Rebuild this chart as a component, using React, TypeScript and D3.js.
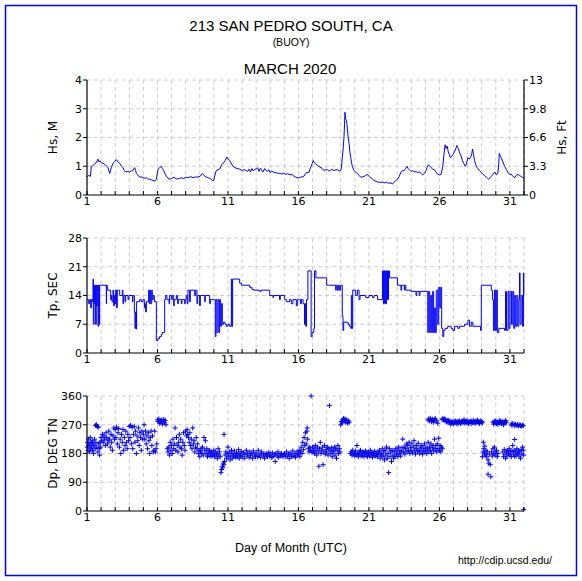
import React from 'react';
import * as d3 from 'd3';

const TITLE = '213 SAN PEDRO SOUTH, CA';
const SUBTITLE = '(BUOY)';
const MONTH = 'MARCH 2020';
const XLABEL = 'Day of Month (UTC)';
const URL = 'http://cdip.ucsd.edu/';

const dayTicks = [1, 6, 11, 16, 21, 26, 31];
const hsTicks = [0, 1, 2, 3, 4];
const hsFtLabels = ['0', '3.3', '6.6', '9.8', '13'];
const tpTicks = [0, 7, 14, 21, 28];
const dpTicks = [0, 90, 180, 270, 360];

const hsData: [number, number][] = [
  [1.0,0.63],[1.1,0.68],[1.24,0.65],[1.31,1.0],[1.4,1.02],[1.54,1.08],[1.65,1.12],[1.78,1.25],[1.85,1.15],[1.95,1.18],
  [2.02,1.12],[2.15,1.1],[2.3,1.05],[2.4,1.0],[2.49,0.95],[2.61,0.75],[2.68,0.88],[2.73,0.95],[2.84,1.1],[2.95,1.15],
  [3.08,1.23],[3.2,1.15],[3.32,1.1],[3.45,1.0],[3.55,0.95],[3.65,0.85],[3.74,0.8],[3.9,0.82],[4.03,0.8],[4.15,0.84],
  [4.26,0.85],[4.38,0.95],[4.45,0.85],[4.5,0.75],[4.6,0.7],[4.74,0.62],[4.9,0.63],[5.05,0.58],[5.21,0.6],[5.3,0.56],
  [5.44,0.55],[5.6,0.52],[5.8,0.48],[5.92,0.55],[6.04,0.9],[6.15,0.95],[6.27,1.0],[6.35,0.92],[6.44,0.85],[6.55,0.72],
  [6.63,0.65],[6.75,0.58],[6.86,0.55],[7.0,0.58],[7.1,0.6],[7.2,0.62],[7.34,0.55],[7.45,0.57],[7.57,0.58],[7.7,0.6],
  [7.85,0.57],[8.04,0.62],[8.2,0.6],[8.35,0.64],[8.52,0.6],[8.7,0.63],[8.87,0.62],[9.05,0.66],[9.18,0.75],[9.28,0.7],
  [9.35,0.65],[9.48,0.62],[9.58,0.6],[9.7,0.58],[9.82,0.55],[9.9,0.5],[9.98,0.5],[10.08,0.7],[10.17,0.85],[10.3,0.88],
  [10.41,0.9],[10.55,1.05],[10.65,1.1],[10.8,1.2],[10.93,1.32],[11.02,1.25],[11.12,1.2],[11.25,1.08],[11.35,1.0],[11.5,0.95],
  [11.65,0.92],[11.83,0.9],[12.0,0.85],[12.15,0.88],[12.3,0.85],[12.4,0.82],[12.5,0.9],[12.6,0.8],[12.7,0.92],[12.8,0.84],
  [12.9,0.9],[13.01,0.9],[13.1,0.95],[13.2,0.82],[13.3,0.93],[13.4,0.86],[13.5,0.8],[13.6,0.92],[13.72,0.85],[13.8,0.82],
  [13.9,0.88],[14.0,0.78],[14.1,0.84],[14.19,0.8],[14.35,0.78],[14.5,0.76],[14.66,0.75],[14.8,0.73],[14.95,0.76],[15.1,0.72],
  [15.25,0.74],[15.4,0.7],[15.55,0.72],[15.67,0.65],[15.8,0.62],[15.9,0.6],[16.0,0.6],[16.14,0.62],[16.25,0.63],[16.38,0.65],
  [16.5,0.75],[16.6,0.78],[16.74,0.78],[16.82,0.9],[16.9,1.0],[16.98,1.1],[17.05,1.2],[17.13,1.12],[17.21,1.1],[17.35,1.02],
  [17.45,1.0],[17.6,0.95],[17.69,0.92],[17.81,0.85],[17.9,0.88],[18.04,0.88],[18.15,0.84],[18.28,0.85],[18.4,0.9],[18.52,0.84],
  [18.65,0.88],[18.76,0.88],[18.88,0.84],[18.99,0.85],[19.05,0.95],[19.11,1.3],[19.17,1.6],[19.23,2.0],[19.27,2.5],[19.3,2.88],
  [19.35,2.65],[19.4,2.6],[19.44,2.45],[19.47,2.3],[19.53,2.0],[19.59,1.8],[19.65,1.5],[19.71,1.3],[19.77,1.12],[19.82,1.0],
  [19.94,0.85],[20.05,0.8],[20.18,0.75],[20.3,0.68],[20.42,0.62],[20.55,0.63],[20.66,0.65],[20.78,0.68],[20.89,0.72],[21.0,0.65],
  [21.13,0.6],[21.25,0.55],[21.37,0.5],[21.5,0.48],[21.6,0.45],[21.8,0.44],[21.95,0.45],[22.08,0.42],[22.25,0.44],[22.4,0.41],
  [22.56,0.42],[22.67,0.38],[22.79,0.45],[22.9,0.5],[23.03,0.55],[23.15,0.65],[23.27,0.8],[23.4,0.85],[23.51,0.85],[23.6,0.92],
  [23.7,1.0],[23.78,0.92],[23.86,0.88],[23.98,0.82],[24.1,0.85],[24.22,0.8],[24.34,0.82],[24.45,0.78],[24.57,0.8],[24.7,0.75],
  [24.81,0.7],[24.93,0.75],[25.05,0.85],[25.14,0.98],[25.22,1.05],[25.32,1.0],[25.41,0.95],[25.52,0.9],[25.64,0.88],[25.76,0.8],
  [25.88,0.72],[26.0,0.7],[26.12,0.72],[26.24,1.0],[26.32,1.4],[26.4,1.75],[26.48,1.62],[26.55,1.7],[26.63,1.5],[26.71,1.4],
  [26.77,1.3],[26.83,1.32],[26.95,1.4],[27.07,1.5],[27.15,1.6],[27.24,1.72],[27.3,1.65],[27.35,1.6],[27.45,1.45],[27.54,1.35],
  [27.63,1.2],[27.73,1.1],[27.82,1.0],[27.9,1.05],[28.02,1.3],[28.1,1.25],[28.21,1.3],[28.3,1.45],[28.35,1.6],[28.42,1.4],
  [28.49,1.2],[28.58,1.05],[28.68,0.95],[28.77,0.9],[28.85,0.85],[28.97,0.78],[29.09,0.72],[29.2,0.68],[29.33,0.62],[29.42,0.58],
  [29.49,0.55],[29.58,0.6],[29.68,0.65],[29.8,0.72],[29.92,0.8],[30.04,0.7],[30.1,0.72],[30.16,0.8],[30.21,1.1],[30.25,1.45],
  [30.32,1.35],[30.39,1.3],[30.5,1.15],[30.63,1.0],[30.75,0.88],[30.87,0.78],[30.98,0.72],[31.11,0.72],[31.2,0.65],[31.34,0.6],
  [31.45,0.68],[31.58,0.72],[31.7,0.66],[31.82,0.65],[31.92,0.6],[32.0,0.6],
];

const tpData: [number, number][] = [
  [1.00,13],[1.12,12],[1.19,13],[1.26,11],[1.31,13],[1.38,12.5],[1.43,18],[1.45,7],[1.50,16.5],[1.54,12],
  [1.57,16.5],[1.61,7],[1.66,16.5],[1.71,11.5],[1.73,16.5],[1.78,6.5],[1.83,16.5],[1.87,7],[1.90,16.5],[2.37,12],
  [2.39,16.5],[2.44,15.3],[2.68,13],[2.73,14],[2.77,12.5],[2.84,15.3],[2.89,11.5],[2.94,14],[2.99,12],[3.03,15.3],
  [3.10,11],[3.15,15.3],[3.32,14],[3.51,15.3],[3.55,12],[3.60,14],[3.70,12.5],[3.74,14],[3.91,13],[3.98,14],
  [4.22,12.5],[4.26,14],[4.36,10],[4.40,6],[4.45,10],[4.50,5.8],[4.52,12.5],[4.74,13],[4.85,12.5],[4.97,13],
  [5.07,11],[5.11,12],[5.16,10],[5.21,12.5],[5.37,15.3],[5.42,12],[5.47,15.3],[5.52,12],[5.59,15.3],[5.63,13],
  [5.70,14],[5.78,12.5],[5.92,3],[6.04,3.5],[6.15,4],[6.27,4.5],[6.34,5],[6.51,13],[6.58,14],[6.67,13],
  [6.82,12],[6.86,14],[6.98,13],[7.05,14],[7.15,11.5],[7.19,13],[7.34,14],[7.43,12],[7.48,13],[7.69,12],
  [7.74,13],[7.93,12],[7.97,13],[8.04,14],[8.11,12],[8.16,15.3],[8.28,12.5],[8.33,15.3],[8.64,14],[8.71,15.3],
  [8.80,12],[8.85,14],[8.99,11.5],[9.04,14],[9.35,12.5],[9.39,14],[9.70,12],[9.75,13],[10.05,13],[10.10,4],
  [10.15,13],[10.22,5],[10.29,13],[10.36,5],[10.41,13],[10.48,6.5],[10.53,12],[10.60,7],[10.69,7.5],[10.79,7],
  [10.88,6.5],[11.00,7],[11.12,6.5],[11.24,18],[11.28,6.5],[11.33,18],[11.83,17],[11.95,16.5],[12.54,16],[12.70,15.5],
  [12.82,15.3],[13.25,15],[13.36,15.3],[13.96,14],[14.19,13.5],[14.24,14],[14.66,13],[14.71,14],[15.02,13],[15.14,12.5],
  [15.37,13],[15.49,12],[15.61,13],[15.85,11.5],[15.92,13],
  [16.00,13],[16.14,12],[16.21,13],[16.33,12],[16.43,7],[16.48,12],[16.52,6.5],[16.57,13],[16.67,20],[16.90,4],
  [16.97,5],[17.09,6],[17.14,20],[17.24,18.3],[18.00,16.5],[18.64,15.3],[18.68,16.5],[18.76,15.3],[18.83,16.5],[18.90,15.3],
  [18.99,16.5],[19.11,9],[19.16,5.5],[19.21,7.5],[19.52,7],[19.61,6.5],[19.71,6],[19.75,14],[19.80,6],[19.85,15.3],
  [20.06,14],[20.18,15.3],[20.30,13],[20.37,14],[20.77,13.5],[21.01,14],[21.25,13.5],[21.37,14],[21.61,13],[21.96,20],
  [22.03,12],[22.10,20],[22.18,12],[22.25,20],[22.32,13],[22.39,20],[22.46,18.3],[23.03,16.5],[23.27,15.3],[23.32,16.5],
  [23.51,15.3],[23.55,16.5],[23.62,15.3],[23.98,15],[24.34,14],[24.39,15],[24.57,14],[24.62,15],[25.17,5],[25.24,15],
  [25.31,5],[25.38,14],[25.45,5],[25.52,15],[25.59,5],[25.66,11],[25.71,5],[25.78,15.3],[25.88,7],[25.95,16],
  [26.02,11],[26.09,16],[26.16,6],[26.24,4],[26.31,5.5],[26.40,6],[26.59,6.5],[26.83,6],[26.95,5.5],[27.07,6.5],
  [27.31,6],[27.42,6.5],[27.78,7],[28.02,8],[28.14,6.5],[28.26,7.5],[28.37,6.5],[28.92,5.5],[28.97,16.5],[29.68,15.3],
  [29.76,13],[29.83,5.5],[29.90,15.3],[29.97,5.5],[30.04,15.3],[30.11,5],[30.21,6],[30.62,5.5],[30.69,15],[30.76,5.5],
  [30.87,15],[30.93,6],[31.01,15],[31.11,7],[31.20,15],[31.27,6],[31.34,14],[31.41,6.5],[31.49,14],[31.56,6.5],
  [31.63,13],[31.68,19.5],[31.72,7],[31.80,14],[31.89,6.5],[31.96,19.5],[31.99,14],[32.0,14],
];

const dpData: [number, number][] = [
  [1.02,200],[1.05,215],[1.08,190],[1.1,225],[1.13,205],[1.17,185],[1.2,210],[1.23,230],[1.27,195],[1.3,215],
  [1.33,200],[1.37,220],[1.4,190],[1.43,210],[1.47,180],[1.5,205],[1.53,225],[1.57,195],[1.6,268],[1.63,215],
  [1.67,270],[1.7,200],[1.73,265],[1.77,185],[1.8,262],[1.83,210],[1.87,195],[1.9,175],[1.93,215],[1.97,200],
  [2.0,230],[2.05,220],[2.1,240],[2.15,215],[2.2,235],[2.25,225],[2.3,205],[2.35,245],[2.4,230],[2.45,210],
  [2.5,220],[2.55,250],[2.6,225],[2.65,200],[2.7,240],[2.75,215],[2.8,190],[2.85,235],[2.9,260],[2.95,225],
  [3.0,255],[3.05,230],[3.1,262],[3.15,210],[3.2,245],[3.25,258],[3.3,200],[3.35,225],[3.4,180],[3.45,240],
  [3.5,215],[3.55,255],[3.6,190],[3.65,230],[3.7,205],[3.75,250],[3.8,215],[3.85,195],[3.9,240],[3.95,220],
  [4.0,265],[4.05,230],[4.1,268],[4.15,210],[4.2,262],[4.25,195],[4.3,240],[4.35,265],[4.4,215],[4.45,250],
  [4.5,180],[4.55,235],[4.6,220],[4.65,260],[4.7,205],[4.75,245],[4.8,230],[4.85,190],[4.9,250],[4.95,225],
  [5.0,240],[5.05,270],[5.1,225],[5.15,250],[5.2,210],[5.25,235],[5.3,195],[5.35,245],[5.4,220],[5.45,180],
  [5.5,230],[5.55,250],[5.6,205],[5.65,235],[5.7,185],[5.75,190],[5.8,250],[5.85,185],[5.9,195],[5.95,210],
  [6.0,285],[6.05,280],[6.1,288],[6.15,275],[6.2,282],[6.25,278],[6.3,285],[6.35,272],[6.4,280],[6.45,287],
  [6.5,276],[6.55,283],[6.6,270],
  [6.7,195],[6.75,185],[6.8,200],[6.85,175],[6.9,215],[6.95,190],[7.0,205],[7.05,180],[7.1,225],[7.15,195],
  [7.2,210],[7.25,260],[7.3,190],[7.35,230],[7.4,205],[7.45,185],[7.5,215],[7.55,240],[7.6,200],[7.65,225],
  [7.7,195],[7.75,175],[7.8,215],[7.85,245],[7.9,205],[7.95,190],
  [8.0,250],[8.05,235],[8.1,255],[8.15,240],[8.2,230],[8.25,215],[8.3,245],[8.35,205],[8.4,225],[8.45,195],
  [8.5,260],[8.55,210],[8.6,220],[8.65,185],[8.7,200],[8.75,230],[8.8,195],[8.85,210],[8.9,180],[8.95,190],
  [9.0,170],[9.05,185],[9.1,195],[9.15,180],[9.2,200],[9.25,175],[9.3,230],[9.35,190],[9.4,220],[9.45,180],
  [9.5,195],[9.55,170],[9.6,185],[9.65,175],[9.7,190],[9.75,180],[9.8,170],[9.85,185],[9.9,175],[9.95,180],
  [10.0,190],[10.05,170],[10.1,185],[10.15,175],[10.2,180],[10.25,165],[10.3,195],[10.35,175],[10.4,185],[10.45,170],
  [10.5,120],[10.55,130],[10.6,140],[10.63,135],[10.67,150],[10.7,145],[10.72,240],[10.75,155],[10.8,175],[10.85,185],
  [10.9,165],[10.95,180],
  [11.0,200],[11.05,170],[11.1,185],[11.15,160],[11.2,175],[11.25,190],[11.3,165],[11.35,180],[11.4,172],[11.45,188],
  [11.5,175],[11.55,168],[11.6,182],[11.65,170],[11.7,178],[11.75,192],[11.8,165],[11.85,180],[11.9,174],[11.95,186],
  [12.0,170],[12.1,182],[12.15,165],[12.2,178],[12.3,190],[12.35,172],[12.4,180],[12.5,168],[12.55,185],[12.6,175],
  [12.7,180],[12.75,165],[12.8,188],[12.9,175],[12.95,170],
  [13.0,182],[13.1,170],[13.15,190],[13.2,175],[13.3,168],[13.35,180],[13.4,185],[13.5,172],[13.55,178],[13.6,165],
  [13.7,180],[13.75,175],[13.8,170],[13.9,184],[13.95,172],
  [14.0,178],[14.1,168],[14.15,182],[14.2,170],[14.3,176],[14.35,155],[14.4,180],[14.5,172],[14.55,185],[14.6,168],
  [14.7,178],[14.75,172],[14.8,180],[14.9,170],[14.95,176],
  [15.0,180],[15.1,170],[15.15,185],[15.2,172],[15.3,178],[15.35,165],[15.4,182],[15.5,175],[15.55,170],[15.6,188],
  [15.7,172],[15.75,180],[15.8,168],[15.9,185],[15.95,175],
  [16.0,178],[16.05,190],[16.1,170],[16.15,185],[16.2,200],[16.25,180],[16.3,215],[16.35,192],[16.4,230],[16.45,205],
  [16.5,245],[16.55,210],[16.6,250],[16.62,260],[16.65,225],[16.7,195],[16.75,185],[16.8,200],[16.85,190],[16.9,360],
  [16.95,185],
  [17.0,200],[17.05,185],[17.1,195],[17.15,180],[17.2,205],[17.25,190],[17.3,175],[17.35,200],[17.4,185],[17.45,140],
  [17.5,195],[17.55,215],[17.6,180],[17.65,190],[17.7,200],[17.75,145],[17.8,185],[17.85,205],[17.9,178],[17.95,192],
  [18.0,185],[18.05,200],[18.1,175],[18.15,195],[18.2,330],[18.25,188],[18.3,180],[18.35,198],[18.4,170],[18.45,190],
  [18.5,185],[18.55,200],[18.6,175],[18.65,195],[18.7,165],[18.75,190],[18.8,205],[18.85,180],[18.9,195],[18.95,185],
  [19.0,270],[19.05,280],[19.1,275],[19.15,285],[19.2,290],[19.25,283],[19.3,288],[19.35,278],[19.4,285],[19.45,280],
  [19.5,275],[19.55,282],[19.6,278],
  [19.7,180],[19.75,185],[19.8,175],[19.85,190],[19.9,178],[19.95,182],[20.0,172],[20.05,188],[20.1,175],[20.15,205],
  [20.2,180],[20.25,170],[20.3,185],[20.35,178],[20.4,190],[20.45,172],[20.5,182],[20.55,175],[20.6,185],[20.65,170],
  [20.7,180],[20.75,188],[20.8,175],[20.85,182],[20.9,170],[20.95,185],[21.0,178],[21.05,172],[21.1,190],[21.15,176],
  [21.2,183],[21.25,168],[21.3,180],[21.35,175],[21.4,187],[21.45,172],[21.5,182],[21.55,176],[21.6,170],[21.65,185],
  [21.7,178],[21.75,190],[21.8,165],[21.85,180],[21.9,175],[21.95,195],
  [22.0,170],[22.05,185],[22.1,160],[22.15,190],[22.2,175],[22.25,200],[22.3,165],[22.35,180],[22.4,120],[22.45,195],
  [22.5,170],[22.55,185],[22.6,155],[22.65,190],[22.7,175],[22.75,165],[22.8,185],[22.85,170],[22.9,195],[22.95,178],
  [23.0,188],[23.05,170],[23.1,200],[23.15,180],[23.2,190],[23.25,172],[23.3,185],[23.35,198],[23.4,225],
  [23.45,185],[23.5,200],[23.55,178],[23.6,195],[23.65,210],[23.7,185],[23.75,205],[23.8,190],[23.85,215],[23.9,180],
  [23.95,198],[24.0,188],[24.05,210],[24.1,182],[24.15,200],[24.2,220],[24.25,190],[24.3,178],[24.35,205],[24.4,195],
  [24.45,185],[24.5,212],[24.55,190],[24.6,180],[24.65,200],[24.7,188],[24.75,205],[24.8,178],[24.85,195],[24.9,185],
  [24.95,210],[25.0,190],[25.05,200],[25.1,180],[25.15,195],[25.2,215],[25.25,185],[25.3,200],[25.35,190],[25.4,210],
  [25.45,180],[25.5,198],[25.55,205],[25.6,188],[25.65,225],[25.7,195],[25.75,205],[25.8,185],[25.85,210],[25.9,195],
  [25.95,228],[26.0,190],[26.05,205],[26.1,185],[26.15,200],[26.2,195],
  [25.2,285],[25.25,288],[25.3,282],[25.35,290],[25.4,285],[25.45,280],[25.5,287],[25.55,283],[25.6,278],[25.65,285],
  [25.7,290],[25.8,282],[25.88,275],
  [26.2,287],[26.25,290],[26.3,285],[26.35,288],[26.4,282],[26.45,286],[26.5,280],[26.55,284],[26.6,278],[26.65,283],
  [26.7,276],[26.75,282],[26.8,272],[26.85,278],[26.9,275],[26.95,280],[27.0,274],[27.05,279],[27.1,276],[27.15,282],
  [27.2,278],[27.25,272],[27.3,280],[27.35,276],[27.4,283],[27.45,278],[27.5,274],[27.55,280],[27.6,276],[27.65,282],
  [27.7,278],[27.75,286],[27.8,275],[27.85,280],[27.9,277],[27.95,283],[28.0,278],[28.05,274],[28.1,281],[28.15,276],
  [28.2,280],[28.25,274],[28.3,282],[28.35,277],[28.4,283],[28.45,276],[28.5,280],[28.55,275],[28.6,282],[28.65,278],
  [28.7,284],[28.75,276],[28.8,280],[28.85,274],[28.9,282],[28.95,278],[29.0,280],[29.05,276],
  [29.05,170],[29.1,185],[29.12,215],[29.15,195],[29.2,180],[29.22,203],[29.25,175],[29.3,190],[29.35,170],[29.4,185],
  [29.45,160],[29.45,115],[29.5,150],[29.55,178],[29.6,145],[29.65,107],[29.7,185],[29.75,172],[29.8,195],[29.85,180],
  [29.9,200],[29.95,175],[30.0,185],[30.05,190],[30.1,170],[30.15,180],
  [29.8,278],[29.85,272],[29.9,280],[29.95,276],[30.0,282],[30.05,274],[30.1,279],[30.15,271],[30.2,277],[30.25,283],
  [30.3,275],[30.35,280],[30.4,274],[30.45,281],[30.5,276],[30.55,270],[30.6,279],[30.65,275],[30.7,283],[30.75,278],
  [31.1,272],[31.15,268],[31.2,274],[31.3,270],[31.35,267],[31.4,272],[31.5,268],[31.55,271],[31.6,266],[31.7,270],
  [31.75,268],[31.8,265],[31.9,269],[31.95,267],
  [30.5,185],[30.55,170],[30.6,192],[30.65,178],[30.7,165],[30.75,185],[30.8,172],[30.85,190],[30.9,180],[30.95,195],
  [31.0,175],[31.05,185],[31.1,170],[31.15,188],[31.2,205],[31.25,178],[31.3,190],[31.35,170],[31.4,185],[31.45,175],
  [31.5,195],[31.55,180],[31.6,188],[31.65,172],[31.7,185],[31.75,165],[31.8,192],[31.85,178],[31.9,200],[31.95,190],
  [31.98,175],[31.34,224],[31.98,5],
];

const TICK_FONT = '"DejaVu Sans", Verdana, sans-serif';
const TITLE_FONT = '"Liberation Sans", Arial, Helvetica, sans-serif';
const BLUE = '#0000ff';
const GRID = '#d0d0d0';

type PanelProps = {
  top: number;
  bottom: number;
  yMax: number;
  yTicks: number[];
  label: string;
  rightAxis?: boolean;
  children: (y: d3.ScaleLinear<number, number>) => React.ReactNode;
};

const X0 = 87;
const X1 = 524;
const x = d3.scaleLinear().domain([1, 32]).range([X0, X1]);
const allDays = d3.range(1, 33);

function Panel({ top, bottom, yMax, yTicks, label, rightAxis, children }: PanelProps) {
  const y = d3.scaleLinear().domain([0, yMax]).range([bottom, top]);
  const cy = (top + bottom) / 2;
  return (
    <g>
      {/* grid */}
      {allDays.slice(1).map((d) => (
        <line key={'vg' + d} x1={x(d)} x2={x(d)} y1={top} y2={bottom} stroke={GRID} strokeDasharray="4,3" />
      ))}
      {yTicks.slice(1).map((t) => (
        <line key={'hg' + t} x1={X0} x2={X1} y1={y(t)} y2={y(t)} stroke={GRID} strokeDasharray="4,3" />
      ))}
      {children(y)}
      {/* axes */}
      <line x1={X0} x2={X0} y1={top} y2={bottom} stroke="#000" strokeWidth={1.2} />
      <line x1={X0} x2={X1} y1={bottom} y2={bottom} stroke="#000" strokeWidth={1.2} />
      {rightAxis && <line x1={X1} x2={X1} y1={top} y2={bottom} stroke="#000" strokeWidth={1.2} />}
      {allDays.map((d) => (
        <line key={'xt' + d} x1={x(d)} x2={x(d)} y1={bottom} y2={bottom - 4} stroke="#000" />
      ))}
      {dayTicks.map((d) => (
        <text key={'xl' + d} x={x(d)} y={bottom + 10} fontSize={11} fontFamily={TICK_FONT} textAnchor="middle">
          {d}
        </text>
      ))}
      {yTicks.map((t) => (
        <g key={'yt' + t}>
          <line x1={X0 - 4} x2={X0} y1={y(t)} y2={y(t)} stroke="#000" />
          <text x={X0 - 5} y={y(t)} dy="0.36em" fontSize={11} fontFamily={TICK_FONT} textAnchor="end">
            {t}
          </text>
        </g>
      ))}
      {rightAxis &&
        yTicks.map((t, i) => (
          <g key={'rt' + t}>
            <line x1={X1} x2={X1 + 4} y1={y(t)} y2={y(t)} stroke="#000" />
            <text x={X1 + 5} y={y(t)} dy="0.36em" fontSize={11} fontFamily={TICK_FONT} textAnchor="start">
              {hsFtLabels[i]}
            </text>
          </g>
        ))}
      <text
        transform={`translate(57,${cy}) rotate(-90)`}
        fontSize={12}
        fontFamily={TICK_FONT}
        textAnchor="middle"
      >
        {label}
      </text>
      {rightAxis && (
        <text
          transform={`translate(566,${cy}) rotate(-90)`}
          fontSize={12}
          fontFamily={TICK_FONT}
          textAnchor="middle"
        >
          Hs, Ft
        </text>
      )}
    </g>
  );
}

export default function App() {
  const hsLine = (y: d3.ScaleLinear<number, number>) =>
    d3
      .line<[number, number]>()
      .x((d) => x(d[0]))
      .y((d) => y(d[1]))
      .curve(d3.curveLinear)(hsData) || '';
  const tpLine = (y: d3.ScaleLinear<number, number>) =>
    d3
      .line<[number, number]>()
      .x((d) => x(d[0]))
      .y((d) => y(d[1]))
      .curve(d3.curveStepAfter)(tpData) || '';
  const dpPath = (y: d3.ScaleLinear<number, number>) =>
    dpData
      .map((d) => {
        const px = x(d[0]);
        const py = y(d[1]);
        return `M${px - 2.5},${py}h5M${px},${py - 2.5}v5`;
      })
      .join('');

  return (
    <svg
      width={582}
      height={581}
      style={{ position: 'absolute', left: 0, top: 0, background: '#fff' }}
    >
      <rect x={0} y={0} width={582} height={581} fill="#fff" />
      <rect x={5.5} y={5.5} width={571} height={570} fill="none" stroke={BLUE} strokeWidth={1.5} />
      <text x={291} y={31} fontSize={15} fontFamily={TITLE_FONT} textAnchor="middle">
        {TITLE}
      </text>
      <text x={291} y={45.5} fontSize={10.5} fontFamily={TITLE_FONT} textAnchor="middle">
        {SUBTITLE}
      </text>
      <text x={290} y={74} fontSize={15} fontFamily={TITLE_FONT} textAnchor="middle">
        {MONTH}
      </text>

      <Panel top={80} bottom={195} yMax={4} yTicks={hsTicks} label="Hs, M" rightAxis>
        {(y) => <path d={hsLine(y)} fill="none" stroke={BLUE} strokeWidth={1} />}
      </Panel>
      <Panel top={238} bottom={353} yMax={28} yTicks={tpTicks} label="Tp, SEC">
        {(y) => <path d={tpLine(y)} fill="none" stroke={BLUE} strokeWidth={1} />}
      </Panel>
      <Panel top={396} bottom={511} yMax={360} yTicks={dpTicks} label="Dp, DEG TN">
        {(y) => <path d={dpPath(y)} fill="none" stroke={BLUE} strokeWidth={1} />}
      </Panel>

      <text x={291} y={552} fontSize={12.5} fontFamily={TITLE_FONT} textAnchor="middle">
        {XLABEL}
      </text>
      <text x={552} y={564} fontSize={10.5} fontFamily={TITLE_FONT} textAnchor="end">
        {URL}
      </text>
    </svg>
  );
}
